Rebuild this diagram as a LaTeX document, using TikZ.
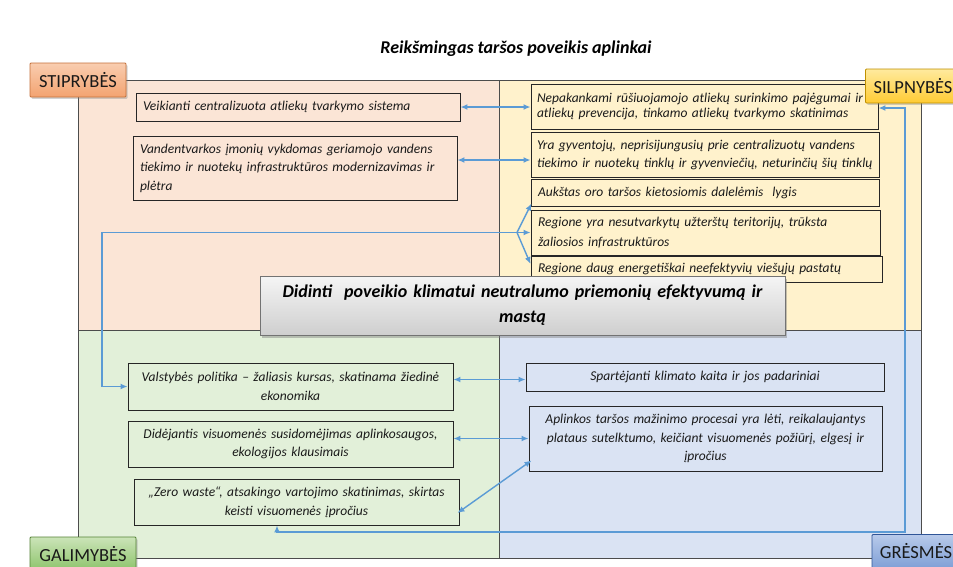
\documentclass[tikz,border=0pt]{standalone}
\usepackage{fontspec}
\setmainfont{Carlito}
\usetikzlibrary{shadows,arrows.meta}
\hyphenpenalty=10000
\exhyphenpenalty=10000
\definecolor{qTL}{HTML}{FBE5D6}
\definecolor{qTR}{HTML}{FFF2CC}
\definecolor{qBL}{HTML}{E2F0D9}
\definecolor{qBR}{HTML}{DAE3F3}
\definecolor{arrblue}{HTML}{5B9BD5}
\definecolor{txt}{HTML}{1A1A1A}
\definecolor{sTop}{HTML}{F9CDB0}
\definecolor{sBot}{HTML}{F3A370}
\definecolor{sLine}{HTML}{C4713B}
\definecolor{wTop}{HTML}{FFEA9E}
\definecolor{wBot}{HTML}{FFCB33}
\definecolor{wLine}{HTML}{BF9000}
\definecolor{oTop}{HTML}{CBE4B8}
\definecolor{oBot}{HTML}{8CC36A}
\definecolor{oLine}{HTML}{548235}
\definecolor{tTop}{HTML}{B8CAEA}
\definecolor{tBot}{HTML}{7F9FD6}
\definecolor{tLine}{HTML}{2F5597}
\begin{document}
\begin{tikzpicture}[x=1pt,y=-1pt,
  >={Latex[length=7pt,width=6pt]},
  arr/.style={draw=arrblue, line width=1.4pt},
  tbox/.style={draw=black!85, line width=0.9pt, inner xsep=7pt, inner ysep=0pt,
     text=txt, font=\fontsize{13.5}{18.5}\selectfont\itshape},
  lab/.style={line width=0.8pt, inner sep=0pt, text=black!90,
     font=\fontsize{18.5}{20}\selectfont, rounded corners=1pt,
     drop shadow={shadow xshift=1.5pt,shadow yshift=-1.8pt,opacity=0.35}},
  quad/.style={draw=black!70, line width=1pt}
]
\clip (0,0) rectangle (953,566);
\fill[white] (0,0) rectangle (953,566);

% quadrants
\fill[qTL] (78,80) rectangle (499,330);
\fill[qTR] (499,80) rectangle (921,330);
\fill[qBL] (78,330) rectangle (499,558);
\fill[qBR] (499,330) rectangle (921,558);
\draw[quad] (78,80) rectangle (921,558);
\draw[quad] (499,80) -- (499,558);
\draw[quad] (78,330) -- (921,330);

% title
\node[font=\fontsize{18}{22}\selectfont\bfseries\itshape, text=black] (title) at (516,48.5) {Reikšmingas taršos poveikis aplinkai};

% strengths
\node[tbox, text width=310pt, minimum height=28pt, align=left] (b1) at (298,107)
  {Veikianti centralizuota atliekų tvarkymo sistema};
\node[tbox, text width=310pt, minimum height=64pt, align=left] (b2) at (295,168)
  {Vandentvarkos įmonių vykdomas geriamojo vandens\\ tiekimo ir nuotekų infrastruktūros modernizavimas ir\\ plėtra};

% weaknesses
\node[tbox, text width=335pt, minimum height=45pt, align=left, inner xsep=6pt,
  font=\fontsize{13.5}{15.5}\selectfont\itshape] (b3) at (704.5,106.5)
  {Nepakankami rūšiuojamojo atliekų surinkimo pajėgumai ir\\ atliekų prevencija, tinkamo atliekų tvarkymo skatinimas};
\node[tbox, text width=336pt, minimum height=45pt, align=left, inner xsep=6pt,
  font=\fontsize{13.5}{18}\selectfont\itshape] (b4) at (705,154.5)
  {Yra gyventojų, neprisijungusių prie centralizuotų vandens\\ tiekimo ir nuotekų tinklų ir gyvenviečių, neturinčių šių tinklų};
\node[tbox, text width=334pt, minimum height=27pt, align=left] (b5) at (705,192.5)
  {Aukštas oro taršos kietosiomis dalelėmis~ lygis};
\node[tbox, text width=335pt, minimum height=45pt, align=left,
  font=\fontsize{13.5}{19.5}\selectfont\itshape] (b6) at (705.5,232.5)
  {Regione yra nesutvarkytų užterštų teritorijų, trūksta\\ žaliosios infrastruktūros};
\node[tbox, text width=337pt, minimum height=26pt, align=left] (b7) at (706.5,269)
  {Regione daug energetiškai neefektyvių viešųjų pastatų};

% opportunities
\node[tbox, text width=311pt, minimum height=47pt, align=center,
  font=\fontsize{13.5}{19}\selectfont\itshape] (b8) at (290.5,386.5)
  {Valstybės politika – žaliasis kursas, skatinama žiedinė\\ ekonomika};
\node[tbox, text width=311pt, minimum height=46pt, align=center] (b9) at (290.5,444)
  {Didėjantis visuomenės susidomėjimas aplinkosaugos,\\ ekologijos klausimais};
\node[tbox, text width=311pt, minimum height=46pt, align=center,
  font=\fontsize{13.5}{19}\selectfont\itshape] (b10) at (296.5,502)
  {„Zero waste“, atsakingo vartojimo skatinimas, skirtas\\ keisti visuomenės įpročius};

% threats
\node[tbox, text width=344pt, minimum height=28pt, align=center] (b11) at (705,377)
  {Spartėjanti klimato kaita ir jos padariniai};
\node[tbox, text width=339pt, minimum height=65pt, align=center] (b12) at (705.5,438.5)
  {Aplinkos taršos mažinimo procesai yra lėti, reikalaujantys\\ plataus sutelktumo, keičiant visuomenės požiūrį, elgesį ir\\ įpročius};

% central goal
\node[draw=black!55, line width=0.8pt, top color=gray!8, bottom color=gray!38,
  minimum width=525pt, minimum height=59pt, inner sep=0pt, align=center,
  text width=515pt, font=\fontsize{18}{25}\selectfont\bfseries\itshape, text=black,
  drop shadow={shadow xshift=2pt,shadow yshift=-2.5pt,opacity=0.45}] (goal) at (522.5,305.5)
  {Didinti~ poveikio klimatui neutralumo priemonių efektyvumą ir\\ mastą};

% connectors
\draw[arr,<->] (b1.east) -- (b3.west |- b1.east);
\draw[arr,<->] (b2.east |- 0,160) -- (b4.west |- 0,160);
\coordinate (lc) at (102,386.5);
\coordinate (jn) at (517,232.5);
\draw[arr,<->] (b8.west) -- (lc) |- (b6.west);
\draw[arr,->] (jn) -- ([xshift=1pt,yshift=3pt]b5.south west);
\draw[arr,->] (jn) -- ([yshift=5pt]b7.west);
\draw[arr,<->] (b8.east |- 0,379.5) -- (b11.west |- 0,379.5);
\draw[arr,<->] (b9.east |- b12.west) -- (b12.west);
\draw[arr,<->] ([xshift=-2pt,yshift=-11pt]b10.east) -- ([xshift=3pt,yshift=11pt]b12.south west);
\coordinate (rb) at (905,532);
\draw[arr,<->] ([xshift=-19.5pt]b10.south) |- (rb) |- ([yshift=-1.5pt]b3.east);

% corner labels
\node[lab, draw=sLine, top color=sTop, bottom color=sBot,
  minimum width=96pt, minimum height=34pt] (s) at (78,80) {STIPRYBĖS};
\node[lab, draw=wLine, top color=wTop, bottom color=wBot,
  minimum width=95pt, minimum height=34pt] (w) at (913,86) {SILPNYBĖS};
\node[lab, draw=tLine, top color=tTop, bottom color=tBot,
  minimum width=88pt, minimum height=34pt] (t) at (916,551.5) {GRĖSMĖS};
\node[lab, draw=oLine, top color=oTop, bottom color=oBot,
  minimum width=106pt, minimum height=34pt] (o) at (83,554) {GALIMYBĖS};
\end{tikzpicture}
\end{document}
